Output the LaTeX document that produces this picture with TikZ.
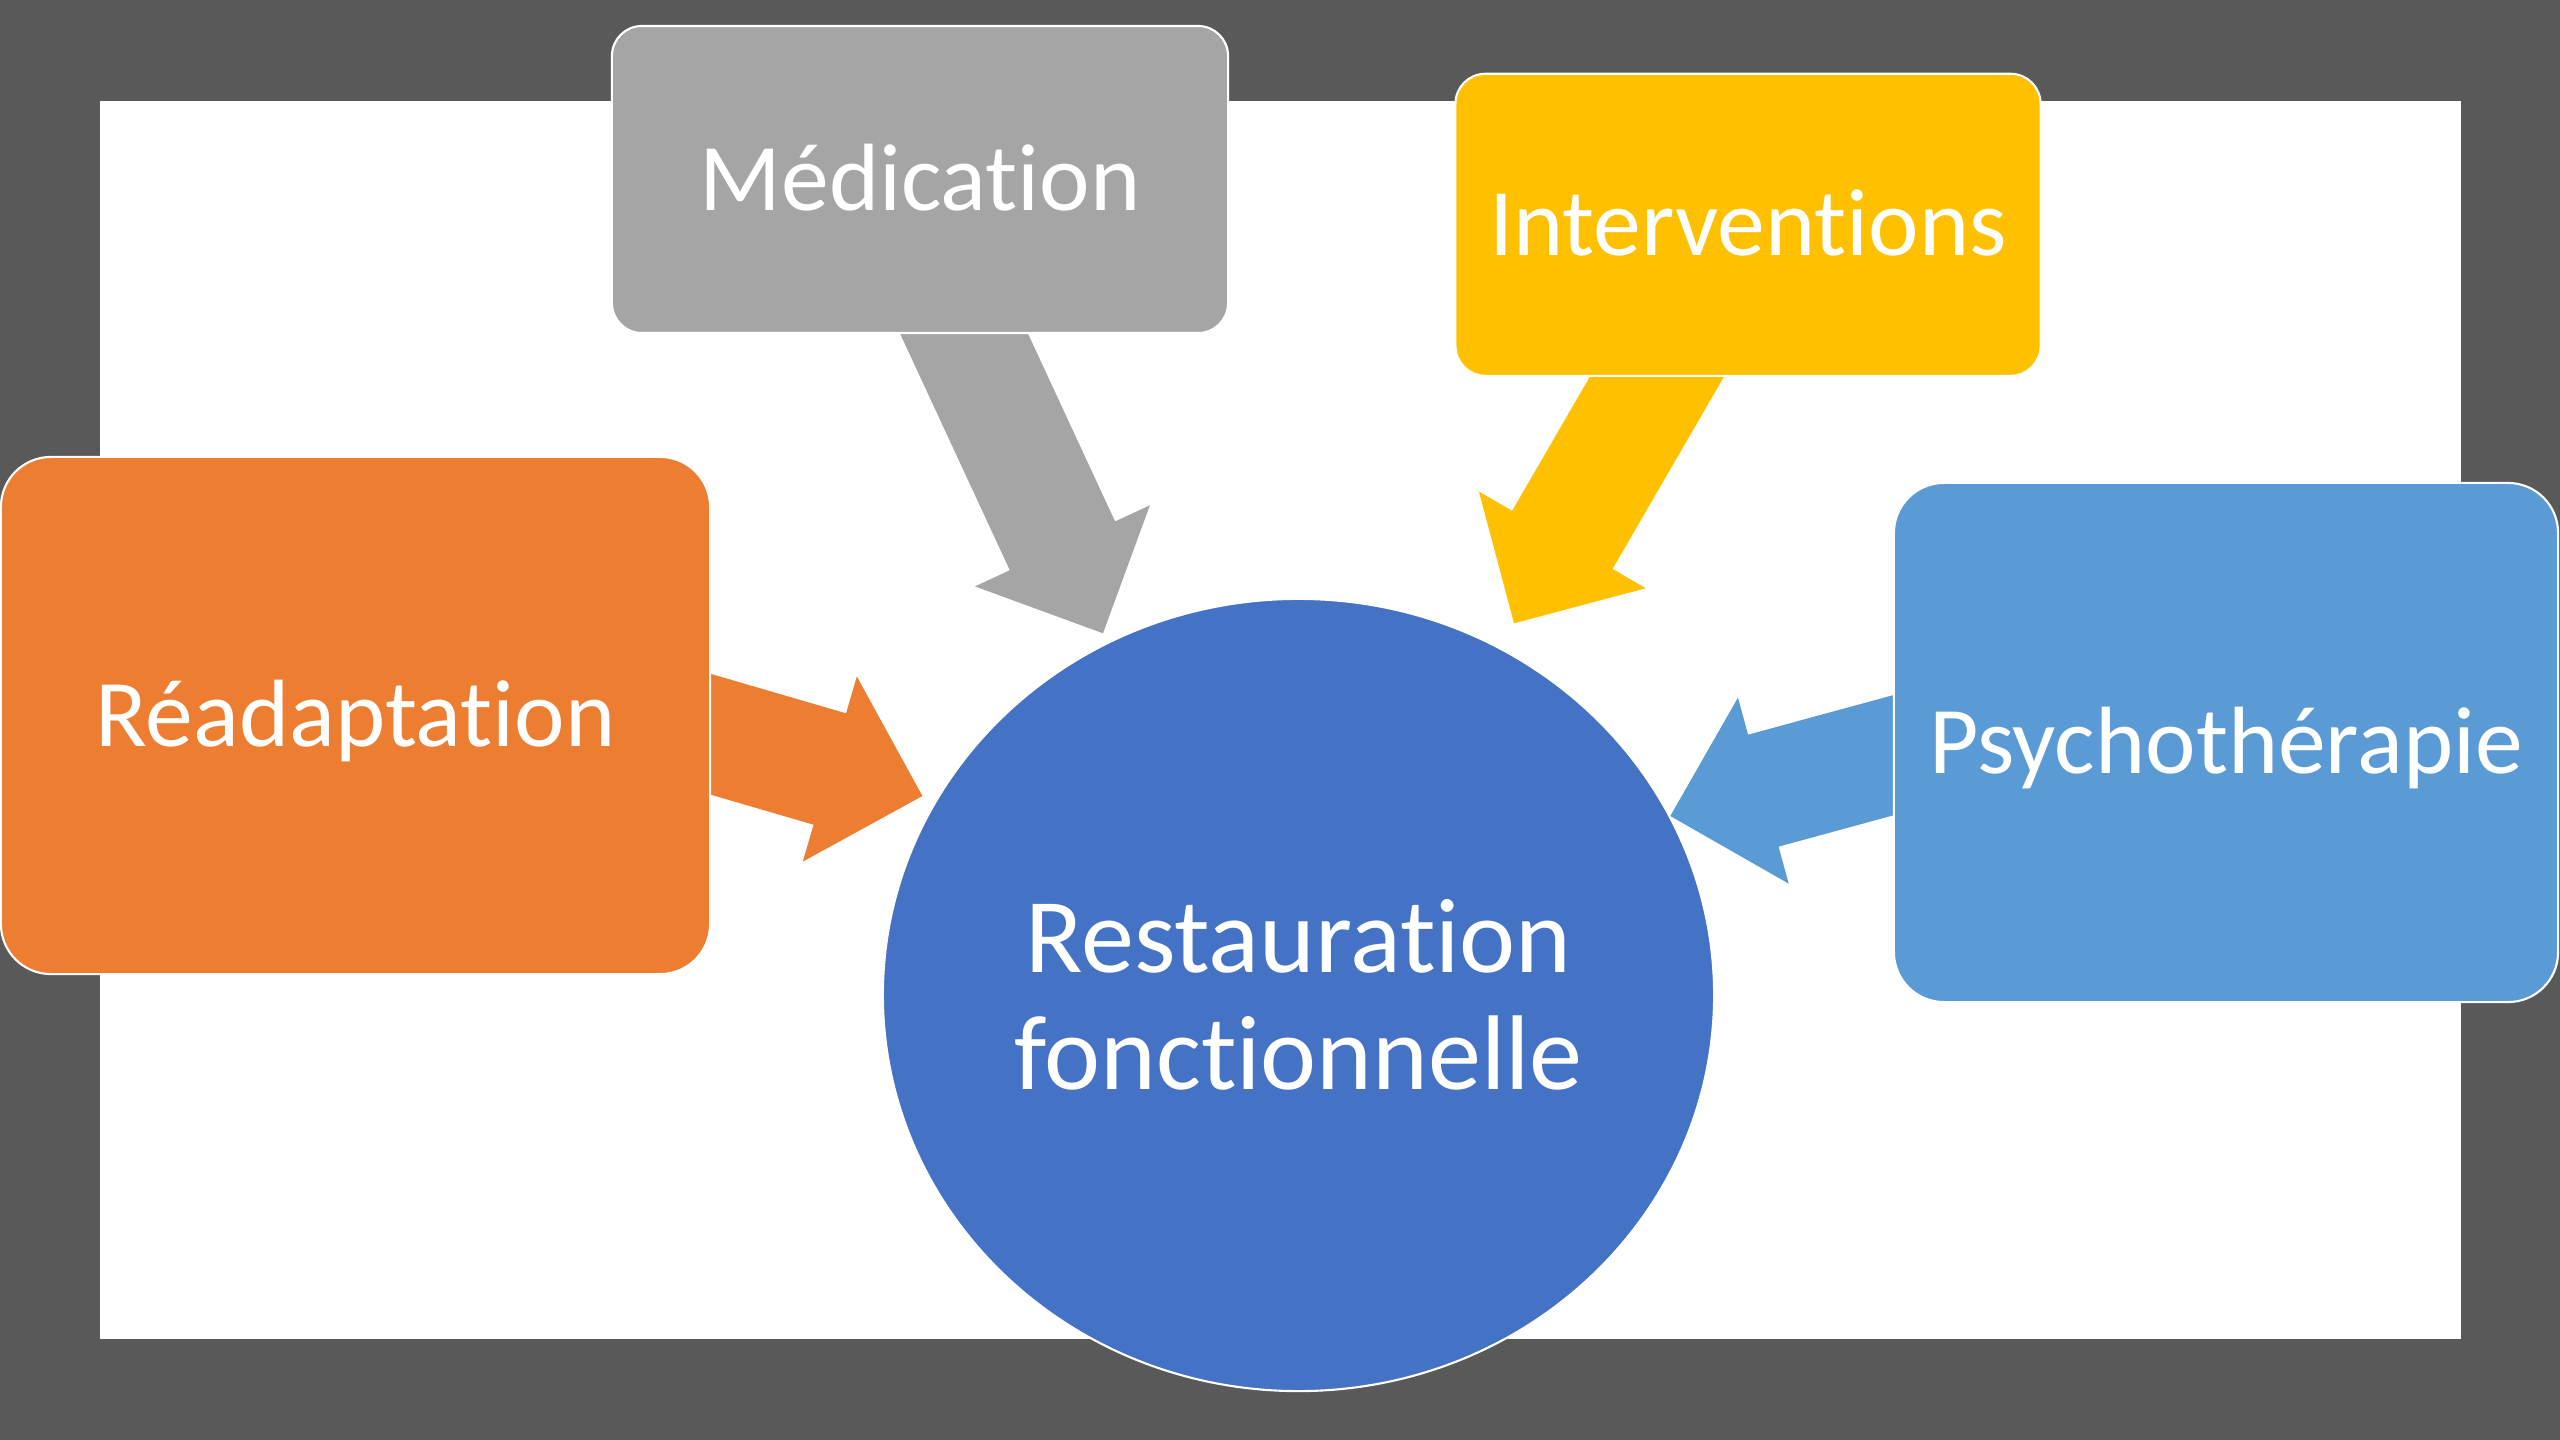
\documentclass[tikz,border=0pt]{standalone}
\usepackage{fontspec}
\setmainfont{Carlito}[Ligatures={NoCommon,NoContextual}]
\usetikzlibrary{calc,shapes.geometric}

\definecolor{framegray}{HTML}{595959}
\definecolor{medgray}{HTML}{A5A5A5}
\definecolor{intyellow}{HTML}{FFC000}
\definecolor{reaorange}{HTML}{ED7D31}
\definecolor{psyblue}{HTML}{5B9BD5}
\definecolor{restblue}{HTML}{4472C4}

\tikzset{
  box/.style={rectangle, draw=white, line width=1.5pt, text=white,
    font=\fontsize{68}{80}\selectfont,
    inner sep=0pt, text height=43.5pt, text depth=0pt},
  smallbox/.style={box, rounded corners=0.75cm},
  bigbox/.style={box, rounded corners=1.25cm},
  hub/.style={ellipse, draw=white, line width=1.5pt, text=white,
    font=\fontsize{75.5}{83}\selectfont,
    align=center, inner sep=0pt, fill=restblue,
    minimum width=20.775cm, minimum height=19.8cm},
}

% Block arrow from a start point to a tip: shaft 116px, head 193px wide, 96px long
\newcommand\blockarrow[3]{%
  \coordinate (ba-h) at ($(#2)!2.41cm!(#1)$);
  \fill[#3] ($(#1)!1.45cm!-90:(#2)$) -- ($(ba-h)!1.45cm!90:(#1)$)
    -- ($(ba-h)!2.41cm!90:(#1)$) -- (#2) -- ($(ba-h)!2.41cm!-90:(#1)$)
    -- ($(ba-h)!1.45cm!-90:(#1)$) -- ($(#1)!1.45cm!90:(#2)$) -- cycle;}

\begin{document}
\begin{tikzpicture}[x=0.025cm, y=-0.025cm]
  \useasboundingbox (0,0) rectangle (2560,1440);
  % slide frame
  \fill[framegray] (0,0) rectangle (2560,1440);
  \fill[white] (99.6,101) rectangle (2460.5,1339);

  % central shape
  \node[hub] (rest) at (1298.5,995) {Restauration\\fonctionnelle};

  % arrow ends
  \coordinate (med-out) at (934.6,270.2);
  \coordinate (int-out) at (1714.6,277.1);
  \coordinate (rea-out) at (538.4,684);
  \coordinate (psy-out) at (2056.3,710.8);
  \coordinate (rest-n1) at (1103,633.3);
  \coordinate (rest-n2) at (1514,623.3);
  \coordinate (rest-w) at (922.4,796);
  \coordinate (rest-e) at (1670.3,816);

  \blockarrow{med-out}{rest-n1}{medgray}
  \blockarrow{int-out}{rest-n2}{intyellow}
  \blockarrow{rea-out}{rest-w}{reaorange}
  \blockarrow{psy-out}{rest-e}{psyblue}

  % surrounding boxes
  \node[smallbox, fill=medgray, minimum width=15.4cm, minimum height=7.675cm]
    (med) at (920,179.5) {Médication};
  \node[smallbox, fill=intyellow, minimum width=14.625cm, minimum height=7.55cm]
    (int) at (1748,224.8) {Interventions};
  \node[bigbox, fill=reaorange, minimum width=17.725cm, minimum height=12.925cm]
    (rea) at (355.5,715.5) {Réadaptation};
  \node[bigbox, fill=psyblue, minimum width=16.6cm, minimum height=12.975cm]
    (psy) at (2226,742.5) {Psychothérapie};
\end{tikzpicture}
\end{document}
